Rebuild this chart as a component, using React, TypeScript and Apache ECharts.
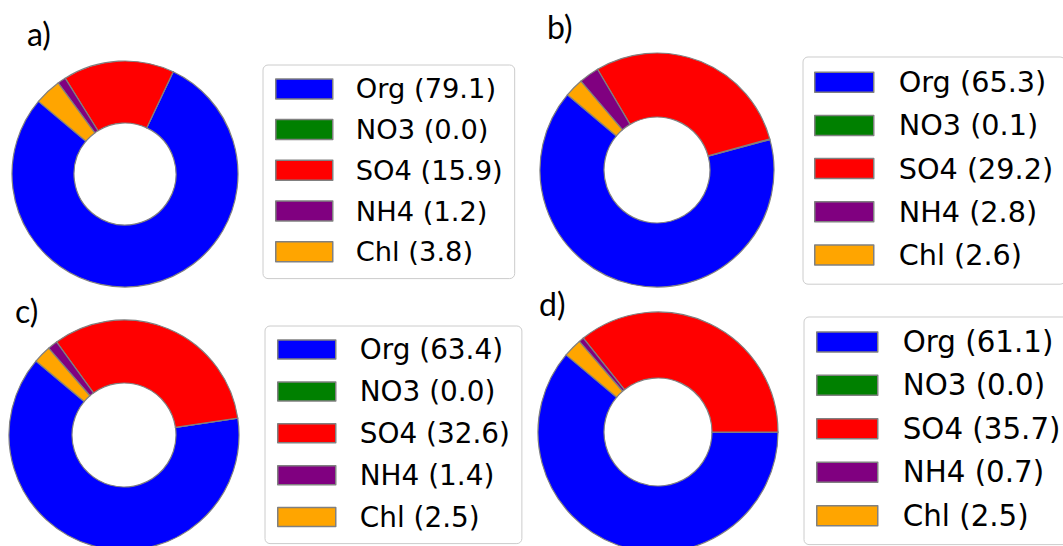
import React, { useEffect, useRef } from "react";
import * as echarts from "echarts";

const categories = ["Org", "NO3", "SO4", "NH4", "Chl"];
const colors = ["#0000ff", "#008000", "#ff0000", "#800080", "#ffa500"];
const panelLabels = ["a)", "b)", "c)", "d)"];
const valuesA = [79.1, 0.0, 15.9, 1.2, 3.8];
const valuesB = [65.3, 0.1, 29.2, 2.8, 2.6];
const valuesC = [63.4, 0.0, 32.6, 1.4, 2.5];
const valuesD = [61.1, 0.0, 35.7, 0.7, 2.5];
const panelValues = [valuesA, valuesB, valuesC, valuesD];

// layout (positions / sizes / styles) per panel
const layouts = [
  { center: [125, 174], radius: [51, 113], title: [27, 17], legend: { left: 263, top: 65, pad: [10.4, 12, 13.4, 12], iw: 57, ih: 20, gap: 13.7, fs: 27.3, tg: 18 } },
  { center: [657, 170], radius: [53, 117], title: [547, 10], legend: { left: 803, top: 57, pad: [10.7, 12, 14.7, 11], iw: 59, ih: 20, gap: 14.2, fs: 28.7, tg: 20 } },
  { center: [124, 435], radius: [52, 115], title: [15, 294], legend: { left: 265, top: 326, pad: [9.6, 12, 12.6, 12], iw: 58, ih: 19, gap: 13.85, fs: 27.9, tg: 19 } },
  { center: [658, 432], radius: [54, 120], title: [539, 287], legend: { left: 804, top: 317, pad: [10.4, 12, 14.4, 12], iw: 61, ih: 20, gap: 14.45, fs: 29.3, tg: 20 } },
];

export default function App() {
  const ref = useRef<HTMLDivElement>(null);
  useEffect(() => {
    document.body.style.margin = "0";
    const chart = echarts.init(ref.current!, null, { renderer: "svg" });
    const option: any = {
      animation: false,
      backgroundColor: "#ffffff",
      title: layouts.map((l, i) => ({
        text: panelLabels[i],
        left: l.title[0],
        top: l.title[1],
        padding: 0,
        textStyle: { fontFamily: "Lato", fontSize: 32, fontWeight: "normal", color: "#000" },
      })),
      legend: layouts.map((l, i) => ({
        orient: "vertical",
        left: l.legend.left,
        top: l.legend.top,
        height: 300,
        padding: l.legend.pad,
        data: categories,
        icon: "rect",
        itemWidth: l.legend.iw,
        itemHeight: l.legend.ih,
        itemGap: l.legend.gap,
        selectedMode: false,
        itemStyle: { borderColor: "#808080", borderWidth: 1.5 },
        formatter: (name: string) => `${name} (${panelValues[i][categories.indexOf(name)].toFixed(1)})`,
        textStyle: {
          fontFamily: "DejaVu Sans",
          fontSize: l.legend.fs,
          color: "#000",
          padding: [0, 0, 0, l.legend.tg],
        },
        backgroundColor: "#ffffff",
        borderColor: "#cccccc",
        borderWidth: 1,
        borderRadius: 5,
      })),
      series: layouts.map((l, i) => ({
        type: "pie",
        center: l.center,
        radius: l.radius,
        startAngle: 140,
        clockwise: false,
        avoidLabelOverlap: false,
        label: { show: false },
        labelLine: { show: false },
        emphasis: { disabled: true },
        itemStyle: { borderColor: "#808080", borderWidth: 1.2 },
        data: categories.map((c, k) => ({ name: c, value: panelValues[i][k], itemStyle: { color: colors[k] } })),
      })),
    };
    chart.setOption(option);
    return () => chart.dispose();
  }, []);
  return <div ref={ref} style={{ width: 1063, height: 546 }} />;
}
